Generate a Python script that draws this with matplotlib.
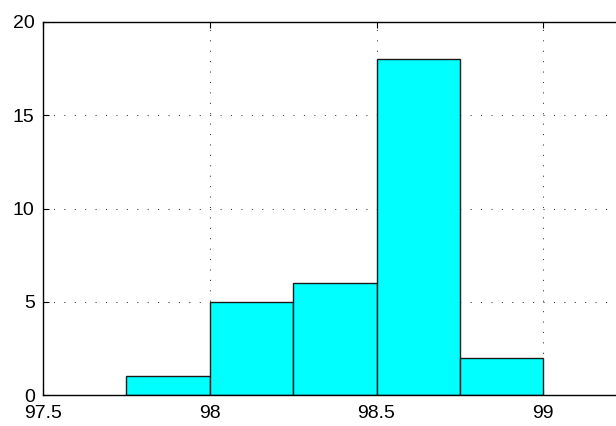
import matplotlib
matplotlib.use("Agg")
import matplotlib.pyplot as plt

# histogram bins (left edges) and counts
bin_left = [97.75, 98.0, 98.25, 98.5, 98.75]
counts = [1, 5, 6, 18, 2]
bin_width = 0.25

xticks = [97.5, 98, 98.5, 99]
xtick_labels = ["97.5", "98", "98.5", "99"]
yticks = [0, 5, 10, 15, 20]

plt.rcParams["font.family"] = ["Liberation Sans", "DejaVu Sans"]

fig = plt.figure(figsize=(6.16, 4.26), dpi=100)
# the right part of the axes lies outside the picture (cropped, as in the reference)
ax = fig.add_axes([43 / 616, 31 / 426, 667 / 616, 373 / 426])

ax.bar(bin_left, counts, width=bin_width, align="edge",
       color="#00ffff", edgecolor="#1a1a1a", linewidth=1.0, zorder=3)

ax.set_xlim(97.5, 99.5)
ax.set_ylim(0, 20)
ax.set_xticks(xticks)
ax.set_xticklabels(xtick_labels)
ax.set_yticks(yticks)

ax.grid(True, linestyle=(0, (1, 9)), color="#333333", linewidth=0.75, zorder=0)
ax.set_axisbelow(True)

ax.tick_params(direction="in", top=True, right=True, length=4,
               labelsize=14, width=0.8)
ax.tick_params(axis="x", pad=7)
ax.tick_params(axis="y", pad=6)
for s in ax.spines.values():
    s.set_linewidth(1.0)
    s.set_zorder(4)

fig.savefig("out.png", dpi=100)
